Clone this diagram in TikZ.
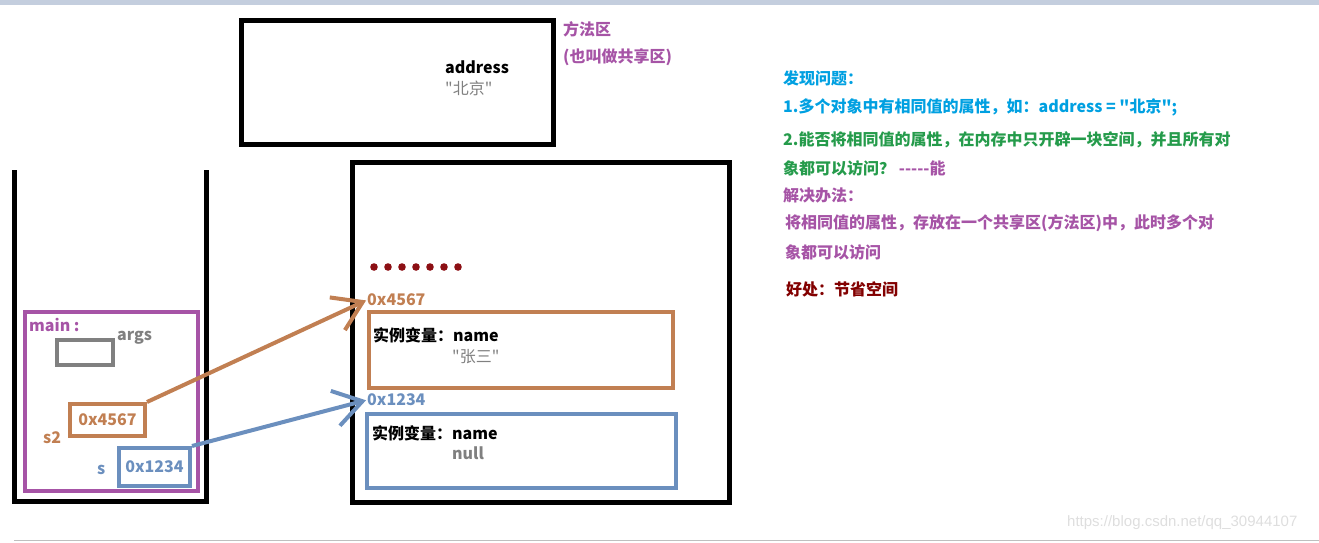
\documentclass[tikz,border=0pt]{standalone}
\usepackage{fontspec}
\setmainfont{Noto Sans CJK SC}[Ligatures=TeXOff]
\newfontfamily\wmfont{Liberation Sans}
\usetikzlibrary{arrows.meta,positioning}
\definecolor{purp}{RGB}{166,84,166}
\definecolor{brown}{RGB}{193,127,82}
\definecolor{steel}{RGB}{107,143,190}
\definecolor{boxgray}{RGB}{128,128,128}
\definecolor{askblue}{RGB}{0,160,225}
\definecolor{askgreen}{RGB}{37,155,75}
\definecolor{dotred}{RGB}{140,15,20}
\definecolor{gainred}{RGB}{130,0,0}
\definecolor{topbar}{RGB}{196,206,222}

\begin{document}
\begin{tikzpicture}[x=1pt, y=-1pt,
    every node/.style={inner sep=0pt, font=\fontsize{16}{19}\selectfont\bfseries},
    box/.style={draw, line width=4pt},
    txt/.style={anchor=west},
    val/.style={anchor=west, text=boxgray},
    ref/.style={line width=4pt, shorten >=1pt, -{Straight Barb[length=28pt,width=36pt]}}]
    \useasboundingbox (0,0) rectangle (1319,542);
    \fill[topbar] (0,0) rectangle (1319,5);
    \draw[black!25, line width=1pt] (14,540) -- (1319,540);

    % method area
    \node[box, line width=5pt, minimum width=312pt, minimum height=124pt] (method) at (397,82) {};
    \node[txt] (field) at (445,67) {address};
    \node[val, font=\fontsize{16}{19}\selectfont] (fieldval) at (445,88) {"北京"};
    \node[txt, text=purp] (area) at (563,29) {方法区};
    \node[txt, text=purp] (area2) at (563,57) {(也叫做共享区)};

    % stack
    \draw[line width=5pt] (14,170) -- (14,501) -- (206,501) -- (206,170);
    \node[box, draw=purp, minimum width=173pt, minimum height=179pt] (frame) at (111.5,401.5) {};
    \node[txt, text=purp] (mainlbl) at (29,325) {main :};
    \node[box, draw=boxgray, minimum width=56pt, minimum height=25pt] (args) at (85,352.5) {};
    \node[txt, text=boxgray] (argslbl) at (117,338) {args};
    \node[box, draw=brown, text=brown, minimum width=75pt, minimum height=32pt] (s2) at (107.5,420) {0x4567};
    \node[txt, text=brown] (s2lbl) at (43,438) {s2};
    \node[box, draw=steel, text=steel, minimum width=71pt, minimum height=38pt] (s) at (154.5,467) {0x1234};
    \node[txt, text=steel] (slbl) at (97,470) {s};

    % heap
    \node[box, line width=5pt, minimum width=377pt, minimum height=340pt] (heap) at (540.5,332) {};
    \foreach \i in {0,...,6}
        \fill[dotred] (374+14*\i,267) circle (3.8pt);
    \node[txt, text=brown] (addr1) at (367,300) {0x4567};
    \node[box, draw=brown, minimum width=304pt, minimum height=76pt] (obj1) at (521,350) {};
    \node[txt] (f1) at (373,335) {实例变量：name};
    \node[val, font=\fontsize{16}{19}\selectfont] (v1) at (452,357) {"张三"};
    \node[txt, text=steel] (addr2) at (367,400) {0x1234};
    \node[box, draw=steel, minimum width=309pt, minimum height=74pt] (obj2) at (521.5,451) {};
    \node[txt] (f2) at (372,433) {实例变量：name};
    \node[val] (v2) at (452,453) {null};

    \draw[ref, draw=brown] (s2.north east) -- (addr1.west);
    \draw[ref, draw=steel] (s.north east) -- (addr2.west);

    % notes
    \node[txt, text=askblue] (q0) at (783,78) {发现问题：};
    \node[txt, text=askblue] (q1) at (783,107) {1.多个对象中有相同值的属性，如：address = "北京";};
    \node[txt, text=askgreen] (q2) at (783,140) {2.能否将相同值的属性，在内存中只开辟一块空间，并且所有对};
    \node[txt, text=askgreen] (q3) at (783,168) {象都可以访问？ \textcolor{purp}{-----能}};
    \node[txt, text=purp] (a0) at (783,195) {解决办法：};
    \node[txt, text=purp] (a1) at (785,223) {将相同值的属性，存放在一个共享区(方法区)中，此时多个对};
    \node[txt, text=purp] (a2) at (785,252) {象都可以访问};
    \node[txt, text=gainred] (gain) at (786,289) {好处：节省空间};

    \node[txt, text=black!13, font=\wmfont\fontsize{15}{18}\selectfont] (mark) at (1067,523) {https://blog.csdn.net/qq\_30944107};
\end{tikzpicture}
\end{document}
